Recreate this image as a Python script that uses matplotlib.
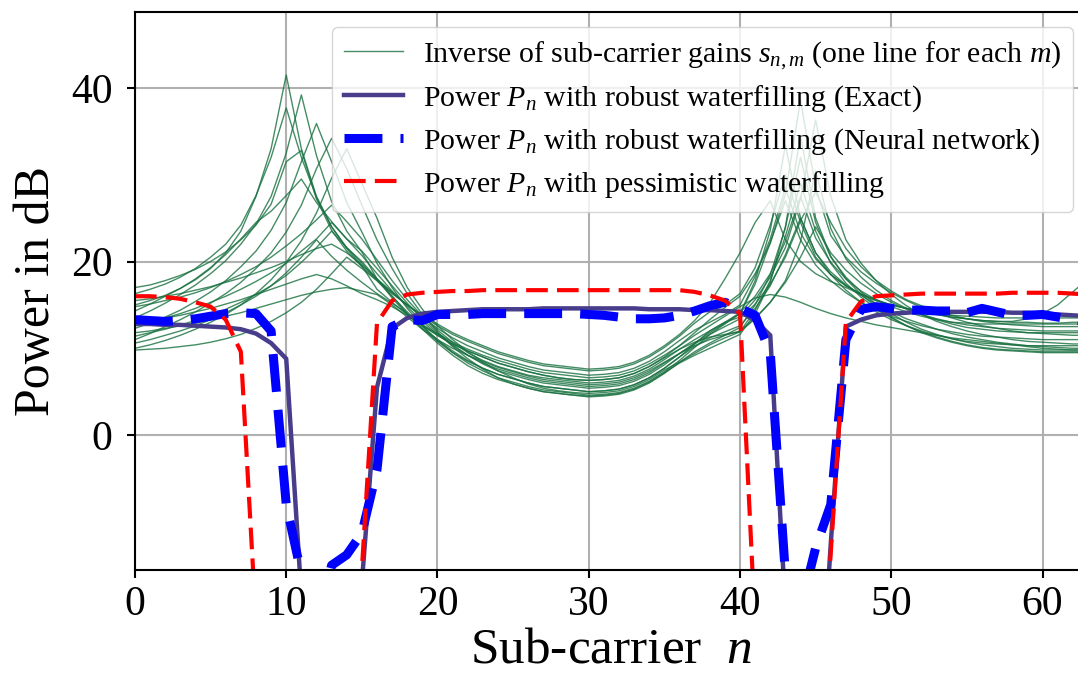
import numpy as np
import matplotlib
matplotlib.use("Agg")
import matplotlib.pyplot as plt

plt.rcParams['font.family'] = ['Liberation Serif', 'DejaVu Serif']
plt.rcParams['mathtext.fontset'] = 'custom'
plt.rcParams['mathtext.rm'] = 'Liberation Serif'
plt.rcParams['mathtext.it'] = 'Liberation Serif:italic'

# sub-carrier index
n = np.arange(64)

# inverse of sub-carrier gains in dB, one list per m
s_1 = [15.0, 15.5, 16.1, 16.9, 17.9, 19.2, 21.0, 23.5,
       27.5, 33.0, 41.5, 33.0, 27.5, 24.0, 21.5, 19.5,
       16.8, 15.3, 13.9, 12.6, 11.5, 10.5, 9.7, 9.0,
       8.3, 7.8, 7.3, 6.9, 6.6, 6.4, 6.3, 6.4,
       6.6, 7.1, 7.9, 9.0, 10.3, 11.8, 13.3, 14.7,
       16.0, 18.6, 22.1, 27.8, 38.6, 28.5, 23.0, 20.5,
       18.8, 17.5, 16.4, 15.5, 14.7, 14.0, 13.5, 13.0,
       12.6, 12.3, 12.0, 11.8, 11.7, 11.6, 11.5, 11.5]
s_2 = [16.3, 16.8, 17.4, 18.2, 19.2, 20.5, 22.0, 24.2,
       27.6, 32.0, 37.7, 32.0, 27.4, 24.0, 21.6, 19.8,
       17.9, 16.4, 15.0, 13.7, 12.6, 11.6, 10.8, 10.1,
       9.4, 8.9, 8.4, 8.0, 7.8, 7.6, 7.4, 7.5,
       7.7, 8.2, 9.0, 10.1, 11.4, 12.9, 14.2, 15.0,
       16.3, 19.3, 24.2, 30.0, 24.5, 20.5, 18.5, 17.2,
       16.3, 15.6, 15.0, 14.6, 14.2, 13.9, 13.6, 13.4,
       13.2, 13.1, 13.0, 13.0, 12.9, 12.9, 13.0, 13.0]
s_3 = [13.5, 14.3, 15.2, 16.2, 17.3, 18.6, 20.1, 22.0,
       24.3, 27.5, 32.5, 39.2, 32.2, 26.9, 23.5, 21.1,
       18.0, 15.8, 13.9, 12.3, 10.8, 9.5, 8.5, 7.7,
       7.0, 6.5, 6.0, 5.6, 5.4, 5.2, 5.0, 5.1,
       5.3, 5.8, 6.6, 7.7, 9.0, 10.5, 12.0, 13.0,
       13.6, 15.6, 18.2, 21.6, 27.2, 36.3, 27.5, 22.5,
       19.8, 17.8, 16.2, 14.9, 13.9, 13.1, 12.5, 12.0,
       11.6, 11.3, 11.0, 10.8, 10.7, 10.6, 10.5, 10.5]
s_4 = [12.3, 12.9, 13.6, 14.4, 15.4, 16.5, 17.8, 19.4,
       21.2, 23.6, 26.8, 31.5, 35.9, 31.5, 26.8, 23.4,
       19.8, 17.0, 14.6, 12.6, 10.9, 9.5, 8.3, 7.4,
       6.6, 6.1, 5.6, 5.2, 5.0, 4.8, 4.6, 4.7,
       4.9, 5.4, 6.2, 7.3, 8.6, 10.1, 11.6, 12.8,
       14.0, 17.8, 23.6, 33.4, 25.0, 21.0, 18.8, 17.3,
       16.1, 15.1, 14.2, 13.4, 12.8, 12.2, 11.7, 11.3,
       11.0, 10.7, 10.5, 10.3, 10.2, 10.1, 10.0, 10.0]
s_5 = [11.0, 11.7, 12.5, 13.3, 14.2, 15.2, 16.3, 17.6,
       19.2, 21.0, 23.4, 26.5, 30.7, 34.2, 30.7, 26.5,
       22.5, 19.2, 16.3, 13.9, 11.9, 10.2, 8.8, 7.6,
       6.6, 5.9, 5.4, 5.0, 4.8, 4.6, 4.4, 4.5,
       4.7, 5.2, 6.0, 7.1, 8.4, 9.6, 10.6, 11.5,
       12.4, 15.0, 18.5, 23.9, 32.0, 24.5, 20.5, 18.2,
       16.5, 15.1, 14.0, 13.0, 12.2, 11.6, 11.1, 10.7,
       10.4, 10.2, 10.0, 9.9, 9.8, 9.8, 9.8, 9.8]
s_6 = [10.0, 10.4, 10.9, 11.5, 12.2, 13.0, 13.9, 15.0,
       16.3, 17.9, 19.9, 22.4, 25.6, 29.6, 33.0, 29.0,
       25.0, 20.5, 17.0, 14.5, 12.6, 11.0, 9.6, 8.4,
       7.4, 6.6, 5.9, 5.4, 5.1, 4.9, 4.8, 4.9,
       5.1, 5.6, 6.4, 7.5, 8.4, 9.4, 10.4, 11.2,
       11.9, 14.4, 17.8, 22.9, 29.0, 23.5, 19.8, 17.5,
       15.9, 14.6, 13.5, 12.6, 11.9, 11.3, 10.8, 10.4,
       10.1, 9.9, 9.8, 9.7, 9.6, 9.6, 9.6, 9.6]
s_7 = [17.0, 17.3, 17.8, 18.4, 19.1, 20.0, 21.1, 22.5,
       24.2, 26.6, 31.5, 32.8, 27.2, 23.6, 21.2, 19.4,
       17.8, 16.3, 15.0, 13.8, 12.8, 11.8, 11.0, 10.3,
       9.6, 9.1, 8.6, 8.2, 8.0, 7.8, 7.6, 7.7,
       7.9, 8.4, 9.2, 10.3, 11.6, 13.2, 15.2, 18.0,
       21.0, 24.5, 27.0, 22.5, 20.0, 18.6, 17.7, 17.0,
       16.2, 15.5, 15.0, 14.6, 14.2, 13.9, 13.6, 13.4,
       13.2, 13.1, 13.1, 13.4, 14.0, 15.0, 16.5, 18.0]
s_8 = [14.3, 15.1, 16.0, 16.9, 18.0, 19.3, 20.8, 22.6,
       24.5, 25.8, 27.6, 29.5, 26.8, 24.6, 22.6, 20.7,
       18.6, 16.6, 14.8, 13.1, 11.6, 10.3, 9.2, 8.3,
       7.6, 7.1, 6.6, 6.2, 6.0, 5.8, 5.6, 5.7,
       5.9, 6.4, 7.2, 8.3, 9.4, 10.5, 11.6, 12.5,
       13.4, 15.1, 17.4, 20.5, 24.7, 28.0, 24.5, 21.5,
       19.4, 17.8, 16.6, 15.6, 14.9, 14.3, 13.8, 13.4,
       13.1, 12.9, 12.7, 12.6, 12.5, 12.5, 12.5, 12.5]
s_9 = [12.7, 13.1, 13.5, 14.0, 14.6, 15.3, 16.0, 16.8,
       17.7, 18.7, 19.8, 21.2, 22.6, 24.5, 22.6, 21.2,
       19.2, 17.2, 15.2, 13.4, 11.8, 10.4, 9.2, 8.2,
       7.4, 6.9, 6.4, 6.0, 5.8, 5.6, 5.4, 5.5,
       5.7, 6.2, 7.0, 8.1, 9.4, 10.6, 11.8, 12.9,
       14.0, 17.4, 22.2, 27.0, 22.5, 19.6, 17.8, 16.4,
       15.3, 14.4, 13.7, 13.1, 12.6, 12.2, 11.9, 11.6,
       11.4, 11.3, 11.2, 11.1, 11.0, 11.0, 11.0, 11.0]
s_10 = [11.4, 11.8, 12.2, 12.7, 13.2, 13.8, 14.5, 15.3,
        16.2, 17.2, 18.4, 19.9, 21.6, 23.5, 21.6, 20.0,
        18.0, 16.0, 14.2, 12.5, 11.0, 9.7, 8.6, 7.7,
        7.0, 6.5, 6.0, 5.6, 5.4, 5.2, 5.0, 5.1,
        5.3, 5.8, 6.6, 7.7, 9.0, 10.2, 11.2, 11.9,
        12.6, 14.6, 17.2, 20.8, 25.0, 21.0, 18.5, 16.7,
        15.3, 14.2, 13.3, 12.6, 12.0, 11.5, 11.1, 10.8,
        10.6, 10.5, 10.4, 10.3, 10.3, 10.3, 10.3, 10.3]
s_11 = [10.6, 11.0, 11.5, 12.0, 12.6, 13.3, 14.1, 15.0,
        16.0, 17.2, 18.7, 20.5, 22.5, 20.6, 19.0, 17.6,
        16.3, 15.2, 14.0, 12.7, 11.5, 10.5, 9.7, 9.0,
        8.3, 7.8, 7.3, 6.9, 6.6, 6.4, 6.3, 6.4,
        6.6, 7.1, 7.9, 8.9, 9.9, 10.7, 11.3, 11.6,
        11.9, 13.4, 15.3, 17.6, 20.5, 24.0, 21.0, 19.0,
        17.5, 16.3, 15.3, 14.5, 13.9, 13.4, 13.0, 12.7,
        12.5, 12.3, 12.2, 12.1, 12.0, 12.0, 12.0, 12.0]
s_12 = [15.5, 15.7, 16.0, 16.3, 16.7, 17.1, 17.6, 18.1,
        18.7, 19.3, 20.0, 20.8, 21.5, 22.0, 21.0, 19.6,
        18.0, 16.5, 15.0, 13.6, 12.3, 11.2, 10.3, 9.6,
        8.9, 8.4, 7.9, 7.5, 7.3, 7.1, 6.9, 7.0,
        7.2, 7.7, 8.5, 9.6, 10.9, 12.1, 13.0, 13.9,
        15.0, 18.3, 22.6, 28.5, 23.3, 20.3, 18.5, 17.2,
        16.2, 15.5, 15.0, 14.6, 14.3, 14.0, 13.8, 13.7,
        13.6, 13.5, 13.5, 13.5, 13.5, 13.5, 13.5, 13.5]
s_13 = [9.8, 9.9, 10.0, 10.2, 10.4, 10.7, 11.1, 11.6,
        12.3, 13.1, 14.1, 15.3, 16.8, 18.6, 20.5, 19.2,
        17.8, 16.0, 14.0, 12.2, 10.6, 9.2, 8.0, 7.1,
        6.4, 5.9, 5.4, 5.0, 4.8, 4.6, 4.5, 4.6,
        4.8, 5.3, 6.1, 7.2, 8.3, 9.2, 10.0, 10.8,
        11.6, 14.0, 17.6, 24.0, 34.5, 25.0, 20.6, 18.0,
        16.2, 14.8, 13.6, 12.6, 11.8, 11.2, 10.7, 10.3,
        10.0, 9.8, 9.7, 9.6, 9.5, 9.5, 9.5, 9.5]
s_14 = [13.0, 13.2, 13.5, 13.8, 14.2, 14.6, 15.1, 15.6,
        16.2, 16.8, 17.4, 18.0, 18.5, 18.0, 17.2, 16.3,
        15.6, 14.8, 13.8, 12.7, 11.7, 10.7, 9.9, 9.2,
        8.6, 8.1, 7.6, 7.2, 7.0, 6.8, 6.6, 6.7,
        6.9, 7.4, 8.2, 9.2, 10.3, 11.5, 12.6, 13.7,
        14.8, 15.8, 16.2, 15.9, 15.3, 14.6, 14.0, 13.5,
        13.1, 12.7, 12.4, 12.1, 11.8, 11.5, 11.2, 11.0,
        10.8, 10.6, 10.4, 10.2, 10.0, 9.9, 9.8, 9.8]
s_15 = [11.8, 12.0, 12.3, 12.6, 12.9, 13.3, 13.7, 14.1,
        14.6, 15.1, 15.6, 16.1, 16.5, 16.8, 17.0, 16.6,
        16.2, 15.0, 13.6, 12.2, 11.0, 10.0, 9.2, 8.5,
        7.8, 7.3, 6.8, 6.4, 6.2, 6.0, 5.8, 5.9,
        6.1, 6.6, 7.4, 8.4, 9.4, 10.3, 11.0, 11.5,
        12.0, 13.5, 15.3, 17.8, 22.3, 30.5, 23.8, 20.3,
        18.2, 16.7, 15.5, 14.6, 13.9, 13.3, 12.8, 12.4,
        12.2, 12.0, 11.9, 11.8, 11.8, 11.8, 11.8, 11.8]
s_16 = [14.8, 15.1, 15.5, 15.9, 16.4, 17.0, 17.7, 18.5,
        19.4, 20.5, 21.8, 23.2, 24.8, 26.5, 24.6, 22.6,
        20.2, 17.8, 15.6, 13.7, 12.1, 10.7, 9.5, 8.6,
        7.9, 7.4, 6.9, 6.6, 6.4, 6.2, 6.0, 6.1,
        6.3, 6.8, 7.6, 8.7, 9.9, 11.0, 12.0, 13.0,
        14.1, 16.0, 18.6, 22.3, 27.5, 22.7, 19.9, 18.0,
        16.6, 15.6, 14.8, 14.2, 13.7, 13.3, 13.0, 12.9,
        12.8, 12.8, 12.8, 12.8, 12.8, 12.8, 12.8, 12.8]
inv_gains = [s_1, s_2, s_3, s_4, s_5, s_6, s_7, s_8,
             s_9, s_10, s_11, s_12, s_13, s_14, s_15, s_16]

# power allocation in dB (deep values are far below the plotted range)
p_exact = [12.8, 12.8, 12.7, 12.7, 12.6, 12.5, 12.4, 12.2,
           11.7, 10.6, 8.8, -18.5, -40, -40, -40, -17.0,
           5.5, 12.3, 13.5, 14.0, 14.2, 14.3, 14.4, 14.5,
           14.5, 14.5, 14.5, 14.6, 14.6, 14.6, 14.6, 14.6,
           14.6, 14.6, 14.5, 14.5, 14.5, 14.4, 14.4, 14.3,
           14.2, 13.2, 11.5, -20.0, -40, -40, -12.5, 12.5,
           13.3, 13.8, 14.0, 14.1, 14.2, 14.2, 14.2, 14.2,
           14.2, 14.2, 14.1, 14.1, 14.0, 13.9, 13.8, 13.7]
p_nn = [13.3, 13.2, 13.1, 13.2, 13.4, 13.7, 14.0, 14.1,
        14.0, 12.0, -8.0, -16.0, -22.0, -15.0, -13.8, -11.3,
        -4.0, 12.5, 13.3, 13.2, 13.9, 13.9, 13.9, 14.0,
        14.0, 14.0, 14.0, 14.0, 14.0, 14.0, 13.9, 13.8,
        13.6, 13.4, 13.4, 13.5, 13.8, 14.3, 14.9, 15.3,
        14.6, 13.8, 9.5, -16.0, -20.0, -13.0, -8.0, 11.0,
        14.5, 14.8, 14.6, 14.4, 14.4, 14.3, 14.3, 14.1,
        14.6, 14.2, 13.8, 13.8, 13.9, 13.6, 13.3, 13.0]
p_pess = [16.0, 16.0, 15.9, 15.7, 15.3, 14.8, 13.3, 9.6,
          -21.5, -40, -40, -40, -40, -40, -40, -15.5,
          12.9, 15.5, 16.2, 16.4, 16.5, 16.6, 16.6, 16.7,
          16.7, 16.7, 16.7, 16.7, 16.7, 16.7, 16.7, 16.7,
          16.7, 16.7, 16.7, 16.7, 16.7, 16.5, 16.1, 15.5,
          14.0, -22.0, -40, -40, -40, -40, -13.5, 13.0,
          15.4, 16.0, 16.1, 16.2, 16.3, 16.3, 16.3, 16.3,
          16.3, 16.3, 16.4, 16.4, 16.4, 16.4, 16.3, 16.2]

fig = plt.figure(figsize=(10.78, 6.83), dpi=100)
ax = fig.add_axes([0.1252, 0.1654, 0.884, 0.817])

for i, s in enumerate(inv_gains):
    ax.plot(n, s, color='#17703f', lw=1.0, alpha=0.8,
            label='Inverse of sub-carrier gains $s_{n,m}$ (one line for each $m$)' if i == 0 else None)
ax.plot(n, p_exact, color='#483d8b', lw=3.2,
        label='Power $P_n$ with robust waterfilling (Exact)')
ax.plot(n, p_nn, color='blue', lw=6.5, dashes=(4.2, 2.0),
        label='Power $P_n$ with robust waterfilling (Neural network)')
ax.plot(n, p_pess, color='red', lw=3.0, dashes=(5.2, 2.2),
        label='Power $P_n$ with pessimistic waterfilling')

ax.set_xlim(0, 63)
ax.set_ylim(-15.55, 48.75)
ax.set_xticks([0, 10, 20, 30, 40, 50, 60])
ax.set_yticks([0, 20, 40])
ax.grid(True, color='#b0b0b0', lw=1.5)
ax.set_axisbelow(True)
ax.spines['right'].set_visible(False)
for sp in ['left', 'bottom', 'top']:
    ax.spines[sp].set_linewidth(1.5)
ax.tick_params(axis='both', labelsize=30, length=6, width=1.5)
ax.tick_params(axis='y', pad=10)
ax.tick_params(axis='x', pad=5)
ax.set_xlabel('Sub-carrier  $n$', fontsize=37, labelpad=2)
ax.set_ylabel('Power in dB', fontsize=36, labelpad=8)

ax.legend(loc='upper right', fontsize=21.5, handlelength=2.0, handletextpad=0.65,
          labelspacing=0.4, borderaxespad=0.5)

fig.savefig('out.png', dpi=100)
